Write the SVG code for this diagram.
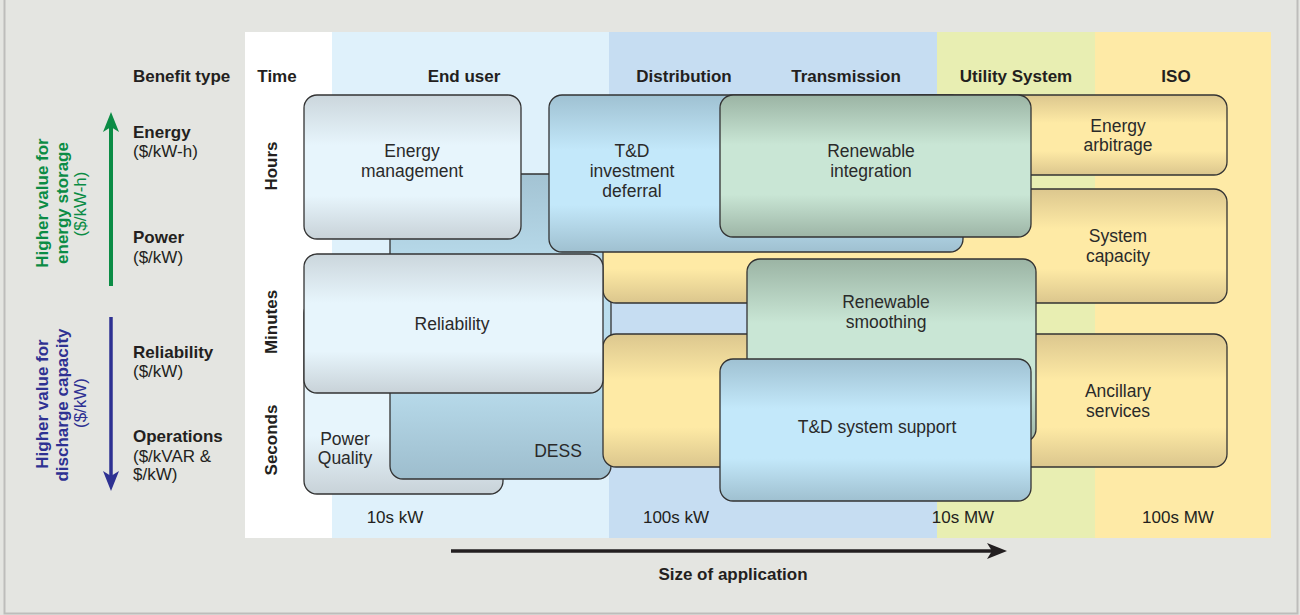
<svg xmlns="http://www.w3.org/2000/svg" width="1300" height="615" viewBox="0 0 1300 615">
<defs>
<style>
.t{font-family:"Liberation Sans",Arial,sans-serif;fill:#231f20}
.h{font-size:17px;font-weight:bold}
.r{font-size:17px}
.b{font-size:17.5px;fill:#2a2a2a}
.box{stroke:#333;stroke-width:1.3}
.g{fill:#0b8c45}
.bl{fill:#2e3192}
</style>
<linearGradient id="gLight" x1="0" y1="0" x2="0" y2="1"><stop offset="0" stop-color="#cbd6dc"/><stop offset=".35" stop-color="#e7f5fc"/><stop offset=".7" stop-color="#e7f5fc"/><stop offset="1" stop-color="#c8d2d8"/></linearGradient>
<linearGradient id="gDess" x1="0" y1="0" x2="0" y2="1"><stop offset="0" stop-color="#a3c3d3"/><stop offset=".35" stop-color="#bcdfef"/><stop offset=".7" stop-color="#b8dbeb"/><stop offset="1" stop-color="#9dbdcd"/></linearGradient>
<linearGradient id="gBlue" x1="0" y1="0" x2="0" y2="1"><stop offset="0" stop-color="#9fc1d2"/><stop offset=".35" stop-color="#c3e8fa"/><stop offset=".7" stop-color="#c3e8fa"/><stop offset="1" stop-color="#9fc0d0"/></linearGradient>
<linearGradient id="gGreen" x1="0" y1="0" x2="0" y2="1"><stop offset="0" stop-color="#9bb4a4"/><stop offset=".35" stop-color="#c9e6d5"/><stop offset=".7" stop-color="#c9e6d5"/><stop offset="1" stop-color="#9db5a6"/></linearGradient>
<linearGradient id="gYellow" x1="0" y1="0" x2="0" y2="1"><stop offset="0" stop-color="#dcc78e"/><stop offset=".35" stop-color="#feeaa5"/><stop offset=".7" stop-color="#feeaa5"/><stop offset="1" stop-color="#dbc68d"/></linearGradient>
<marker id="mGreen" markerUnits="userSpaceOnUse" viewBox="0 0 20 16" refX="10" refY="8" markerWidth="20" markerHeight="16" orient="auto"><path d="M0,0 L20,8 L0,16 L5,8 Z" fill="#0b8c45"/></marker>
<marker id="mBlue" markerUnits="userSpaceOnUse" viewBox="0 0 20 16" refX="10" refY="8" markerWidth="20" markerHeight="16" orient="auto"><path d="M0,0 L20,8 L0,16 L5,8 Z" fill="#2e3192"/></marker>
<marker id="mBlack" markerUnits="userSpaceOnUse" viewBox="0 0 20 16" refX="10" refY="8" markerWidth="20" markerHeight="16" orient="auto"><path d="M0,0 L20,8 L0,16 L5,8 Z" fill="#231f20"/></marker>
</defs>

<rect x="0" y="0" width="1300" height="615" fill="#e4e5e1"/>
<path d="M4.5,0 V613.5 H1297.5 V0" fill="none" stroke="#bdbdbb" stroke-width="2"/>

<g id="bands">
<rect x="245" y="32" width="87" height="506" fill="#ffffff"/>
<rect x="332" y="32" width="277" height="506" fill="#dff1fb"/>
<rect x="609" y="32" width="328" height="506" fill="#c6ddf2"/>
<rect x="937" y="32" width="158" height="506" fill="#e8eeb2"/>
<rect x="1095" y="32" width="176" height="506" fill="#feeaa6"/>
</g>

<g id="headers" class="t h">
<text x="133" y="82">Benefit type</text>
<text x="277" y="82" text-anchor="middle">Time</text>
<text x="464" y="82" text-anchor="middle">End user</text>
<text x="684" y="82" text-anchor="middle">Distribution</text>
<text x="846" y="82" text-anchor="middle">Transmission</text>
<text x="1016" y="82" text-anchor="middle">Utility System</text>
<text x="1176" y="82" text-anchor="middle">ISO</text>
</g>

<g id="time-labels" class="t h" text-anchor="middle">
<text transform="translate(277,166) rotate(-90)">Hours</text>
<text transform="translate(277,322) rotate(-90)">Minutes</text>
<text transform="translate(277,440) rotate(-90)">Seconds</text>
</g>

<g id="benefit-types" class="t">
<text class="h" x="133" y="138">Energy</text>
<text class="r" x="133" y="157">($/kW-h)</text>
<text class="h" x="133" y="243">Power</text>
<text class="r" x="133" y="263">($/kW)</text>
<text class="h" x="133" y="358">Reliability</text>
<text class="r" x="133" y="377">($/kW)</text>
<text class="h" x="133" y="442">Operations</text>
<text class="r" x="133" y="462">($/kVAR &amp;</text>
<text class="r" x="133" y="480">$/kW)</text>
</g>

<g id="side-labels" class="t" text-anchor="middle">
<text class="h g" transform="translate(48,203) rotate(-90)">Higher value for</text>
<text class="h g" transform="translate(68,203) rotate(-90)">energy storage</text>
<text class="r g" transform="translate(86,204) rotate(-90)">($/kW-h)</text>
<text class="h bl" transform="translate(48,404) rotate(-90)">Higher value for</text>
<text class="h bl" transform="translate(68,405) rotate(-90)">discharge capacity</text>
<text class="r bl" transform="translate(86,403) rotate(-90)">($/kW)</text>
</g>

<g id="power-quality">
<rect class="box" x="304" y="300" width="199" height="194" rx="13" fill="url(#gLight)"/>
<text class="t b" text-anchor="middle"><tspan x="345" y="445">Power</tspan><tspan x="345" y="464">Quality</tspan></text>
</g>
<g id="dess">
<rect class="box" x="390" y="174" width="221" height="305" rx="13" fill="url(#gDess)"/>
<text class="t b" x="558" y="457" text-anchor="middle">DESS</text>
</g>
<g id="energy-arbitrage">
<rect class="box" x="900" y="95" width="327" height="80" rx="13" fill="url(#gYellow)"/>
<text class="t b" text-anchor="middle"><tspan x="1118" y="132">Energy</tspan><tspan x="1118" y="151">arbitrage</tspan></text>
</g>
<g id="system-capacity">
<rect class="box" x="603" y="189" width="624" height="114" rx="13" fill="url(#gYellow)"/>
<text class="t b" text-anchor="middle"><tspan x="1118" y="242">System</tspan><tspan x="1118" y="262">capacity</tspan></text>
</g>
<g id="ancillary-services">
<rect class="box" x="603" y="334" width="624" height="133" rx="13" fill="url(#gYellow)"/>
<text class="t b" text-anchor="middle"><tspan x="1118" y="397">Ancillary</tspan><tspan x="1118" y="417">services</tspan></text>
</g>
<g id="td-investment-deferral">
<rect class="box" x="549" y="95" width="414" height="157" rx="13" fill="url(#gBlue)"/>
<text class="t b" text-anchor="middle"><tspan x="632" y="157">T&amp;D</tspan><tspan x="632" y="177">investment</tspan><tspan x="632" y="197">deferral</tspan></text>
</g>
<g id="renewable-integration">
<rect class="box" x="720" y="95" width="311" height="142" rx="13" fill="url(#gGreen)"/>
<text class="t b" text-anchor="middle"><tspan x="871" y="157">Renewable</tspan><tspan x="871" y="177">integration</tspan></text>
</g>
<g id="renewable-smoothing">
<rect class="box" x="747" y="259" width="289" height="183" rx="13" fill="url(#gGreen)"/>
<text class="t b" text-anchor="middle"><tspan x="886" y="308">Renewable</tspan><tspan x="886" y="328">smoothing</tspan></text>
</g>
<g id="td-system-support">
<rect class="box" x="720" y="359" width="311" height="142" rx="13" fill="url(#gBlue)"/>
<text class="t b" x="877" y="433" text-anchor="middle">T&amp;D system support</text>
</g>
<g id="energy-management">
<rect class="box" x="304" y="95" width="217" height="144" rx="13" fill="url(#gLight)"/>
<text class="t b" text-anchor="middle"><tspan x="412" y="157">Energy</tspan><tspan x="412" y="177">management</tspan></text>
</g>
<g id="reliability">
<rect class="box" x="304" y="254" width="299" height="139" rx="13" fill="url(#gLight)"/>
<text class="t b" x="452" y="330" text-anchor="middle">Reliability</text>
</g>

<g id="scale-labels" class="t r" fill="#333" text-anchor="middle">
<text x="395" y="523">10s kW</text>
<text x="676" y="523">100s kW</text>
<text x="963" y="523">10s MW</text>
<text x="1178" y="523">100s MW</text>
</g>

<g id="connectors">
<line x1="111" y1="286" x2="111" y2="122" stroke="#0b8c45" stroke-width="4" marker-end="url(#mGreen)"/>
<line x1="111" y1="317" x2="111" y2="481" stroke="#2e3192" stroke-width="3.5" marker-end="url(#mBlue)"/>
<line x1="451" y1="551" x2="997" y2="551" stroke="#231f20" stroke-width="3.5" marker-end="url(#mBlack)"/>
</g>
<text class="t h" x="733" y="580" text-anchor="middle">Size of application</text>
</svg>
